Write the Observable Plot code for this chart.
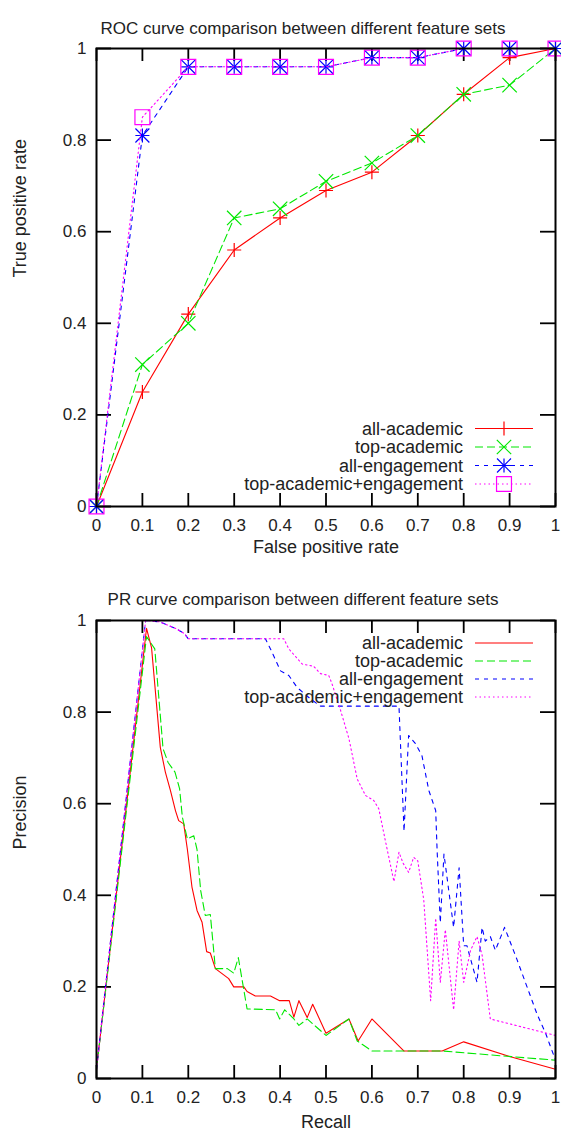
<!DOCTYPE html>
<html><head><meta charset="utf-8">
<script src="https://cdn.jsdelivr.net/npm/d3@7"></script>
<script src="https://cdn.jsdelivr.net/npm/@observablehq/plot@0.6"></script>
<style>
body{margin:0;background:#fff;}
#chart svg{display:block;}
</style>
</head><body><div id="chart"></div>
<script>
// ---------- data ----------
const seriesNames = ["all-academic", "top-academic", "all-engagement", "top-academic+engagement"];
const seriesColors = ["#ff0000", "#00e800", "#0000ff", "#ff00ff"];
const seriesDash = [null, "8,4", "4,5", "1.5,3"];

const xTicks = [0, 0.1, 0.2, 0.3, 0.4, 0.5, 0.6, 0.7, 0.8, 0.9, 1];
const yTicks = [0, 0.2, 0.4, 0.6, 0.8, 1];

// ROC
const rocFpr = [0, 0.1, 0.2, 0.3, 0.4, 0.5, 0.6, 0.7, 0.8, 0.9, 1];
const rocAllAcademic = [0, 0.25, 0.42, 0.56, 0.63, 0.69, 0.73, 0.81, 0.90, 0.98, 1.0];
const rocTopAcademic = [0, 0.31, 0.40, 0.63, 0.65, 0.71, 0.75, 0.81, 0.90, 0.92, 1.0];
const rocAllEngagement = [0, 0.81, 0.96, 0.96, 0.96, 0.96, 0.98, 0.98, 1.0, 1.0, 1.0];
const rocTopAcadEngagement = [0, 0.85, 0.96, 0.96, 0.96, 0.96, 0.98, 0.98, 1.0, 1.0, 1.0];

// PR  [recall, precision]
const prAllAcademic = [[0,0.02],[0.109,0.983],[0.12,0.94],[0.139,0.723],[0.15,0.669],[0.161,0.629],[0.172,0.585],[0.179,0.563],[0.19,0.556],[0.198,0.5],[0.208,0.418],[0.219,0.367],[0.23,0.341],[0.24,0.277],[0.248,0.274],[0.259,0.24],[0.288,0.218],[0.299,0.2],[0.321,0.2],[0.328,0.19],[0.346,0.18],[0.379,0.18],[0.399,0.17],[0.42,0.17],[0.43,0.134],[0.441,0.17],[0.459,0.133],[0.471,0.162],[0.5,0.099],[0.55,0.13],[0.57,0.082],[0.6,0.13],[0.67,0.06],[0.753,0.06],[0.8,0.08],[0.9,0.048],[1,0.02]];
const prTopAcademic = [[0,0.02],[0.109,0.965],[0.127,0.938],[0.145,0.72],[0.156,0.69],[0.171,0.669],[0.181,0.633],[0.187,0.571],[0.198,0.523],[0.212,0.53],[0.219,0.5],[0.227,0.41],[0.237,0.356],[0.248,0.358],[0.259,0.24],[0.285,0.24],[0.299,0.23],[0.309,0.264],[0.328,0.152],[0.39,0.15],[0.399,0.13],[0.41,0.15],[0.43,0.13],[0.441,0.116],[0.459,0.13],[0.5,0.094],[0.55,0.13],[0.568,0.082],[0.6,0.06],[0.753,0.06],[1,0.04]];
const prAllEngagement = [[0,0.02],[0.107,1.0],[0.138,0.997],[0.174,0.982],[0.192,0.971],[0.2,0.96],[0.368,0.96],[0.379,0.938],[0.401,0.89],[0.419,0.88],[0.437,0.854],[0.466,0.829],[0.488,0.813],[0.659,0.813],[0.67,0.54],[0.68,0.749],[0.695,0.731],[0.709,0.705],[0.724,0.629],[0.739,0.585],[0.742,0.5],[0.749,0.34],[0.757,0.49],[0.778,0.33],[0.79,0.46],[0.8,0.29],[0.807,0.29],[0.829,0.21],[0.84,0.33],[0.847,0.3],[0.858,0.31],[0.869,0.28],[0.889,0.33],[0.916,0.26],[0.96,0.14],[0.978,0.1],[1,0.04]];
const prTopAcadEngagement = [[0,0.02],[0.107,1.0],[0.138,0.997],[0.174,0.982],[0.192,0.971],[0.2,0.96],[0.408,0.96],[0.419,0.938],[0.448,0.905],[0.473,0.9],[0.488,0.884],[0.506,0.88],[0.513,0.862],[0.532,0.803],[0.55,0.742],[0.568,0.654],[0.586,0.618],[0.604,0.607],[0.615,0.589],[0.63,0.516],[0.648,0.43],[0.659,0.494],[0.668,0.47],[0.68,0.45],[0.691,0.483],[0.7,0.475],[0.713,0.39],[0.728,0.17],[0.739,0.35],[0.749,0.21],[0.76,0.325],[0.778,0.15],[0.79,0.3],[0.8,0.21],[0.815,0.28],[0.829,0.31],[0.84,0.27],[0.858,0.13],[1,0.094]];

const rocTitle = "ROC curve comparison between different feature sets";
const prTitle = "PR curve comparison between different feature sets";

// ---------- layout / style ----------
const W = 561, H = 565;
const FONT = "'Liberation Sans', Arial, Helvetica, sans-serif";
const ML = 96, MR = 6;
const innerW = W - ML - MR;

// marker symbols for ROC: plus, times, asterisk (plus+times), open square
const markerDefs = [
  [{symbol: "plus", r: 4.6}],
  [{symbol: "times", r: 6.6}],
  [{symbol: "plus", r: 4.6}, {symbol: "times", r: 6.4}],
  [{symbol: "square2", r: 9.5}]
];

function panel({title, xLabel, yLabel, series, withMarkers, mt, mb, titleDy, xLabelDy, legendRows}) {
  const innerH = H - mt - mb;
  const marks = [];
  // ticks (inward, mirrored)
  marks.push(Plot.ruleX(xTicks, {x: d => d, insetTop: innerH - 13, stroke: "black", strokeWidth: 1.8}));
  marks.push(Plot.ruleX(xTicks, {x: d => d, insetBottom: innerH - 13, stroke: "black", strokeWidth: 1.8}));
  marks.push(Plot.ruleY(yTicks, {y: d => d, insetRight: innerW - 15, stroke: "black", strokeWidth: 1.8}));
  marks.push(Plot.ruleY(yTicks, {y: d => d, insetLeft: innerW - 15, stroke: "black", strokeWidth: 1.8}));
  marks.push(Plot.axisX({ticks: xTicks, tickFormat: d => String(d), tickSize: 0, tickPadding: 12, label: null, fontSize: 17}));
  marks.push(Plot.axisY({ticks: yTicks, tickFormat: d => String(d), tickSize: 0, tickPadding: 10, label: null, fontSize: 17}));
  series.forEach((s, i) => {
    marks.push(Plot.line(s, {x: "x", y: "y", stroke: seriesColors[i], strokeWidth: 1.1, strokeDasharray: seriesDash[i]}));
    if (withMarkers) {
      for (const m of markerDefs[i]) {
        marks.push(Plot.dot(s, {x: "x", y: "y", symbol: m.symbol, r: m.r, stroke: seriesColors[i], strokeWidth: 1.2}));
      }
    }
  });
  marks.push(Plot.frame({stroke: "black", strokeWidth: 2}));
  marks.push(Plot.text([title], {frameAnchor: "top", dy: titleDy, dx: -23, fontSize: 17, fill: "#222"}));
  marks.push(Plot.text([xLabel], {frameAnchor: "bottom", dy: xLabelDy, fontSize: 18, fill: "#222"}));
  marks.push(Plot.text([yLabel], {frameAnchor: "left", dx: -76, rotate: -90, fontSize: 18, fill: "#222"}));

  const svg = Plot.plot({
    width: W, height: H,
    marginLeft: ML, marginRight: MR, marginTop: mt, marginBottom: mb,
    x: {domain: [0, 1]},
    y: {domain: [0, 1]},
    style: {fontFamily: FONT, fontSize: "17px", background: "white", color: "#222", overflow: "visible"},
    marks
  });

  // legend (key box, top or bottom right inside frame)
  const g = d3.select(svg).append("g");
  legendRows.forEach((rowY, i) => {
    g.append("text").attr("x", 463).attr("y", rowY).attr("dy", "0.35em")
      .attr("text-anchor", "end").attr("font-size", 18).attr("fill", "#222").attr("font-family", FONT)
      .text(seriesNames[i]);
    g.append("line").attr("x1", 475).attr("x2", 533).attr("y1", rowY).attr("y2", rowY)
      .attr("stroke", seriesColors[i]).attr("stroke-width", 1.1)
      .attr("stroke-dasharray", seriesDash[i]);
    if (withMarkers) {
      for (const m of markerDefs[i]) {
        const type = {plus: d3.symbolPlus, times: d3.symbolTimes, square2: d3.symbolSquare2}[m.symbol];
        g.append("path").attr("transform", `translate(504,${rowY})`)
          .attr("d", d3.symbol(type, m.r * m.r * Math.PI)())
          .attr("fill", "none").attr("stroke", seriesColors[i]).attr("stroke-width", 1.2);
      }
    }
  });
  return svg;
}

const rocSeries = [rocAllAcademic, rocTopAcademic, rocAllEngagement, rocTopAcadEngagement]
  .map(tpr => tpr.map((y, j) => ({x: rocFpr[j], y})));
const prSeries = [prAllAcademic, prTopAcademic, prAllEngagement, prTopAcadEngagement]
  .map(pts => pts.map(([x, y]) => ({x, y})));

const root = document.getElementById("chart");
root.append(panel({
  title: rocTitle, xLabel: "False positive rate", yLabel: "True positive rate",
  series: rocSeries, withMarkers: true, mt: 48, mb: 59, titleDy: -27, xLabelDy: 46,
  legendRows: [428.5, 447, 465.5, 484]
}));
root.append(panel({
  title: prTitle, xLabel: "Recall", yLabel: "Precision",
  series: prSeries, withMarkers: false, mt: 55, mb: 52, titleDy: -28, xLabelDy: 49,
  legendRows: [78, 96, 114, 132]
}));
</script></body></html>
